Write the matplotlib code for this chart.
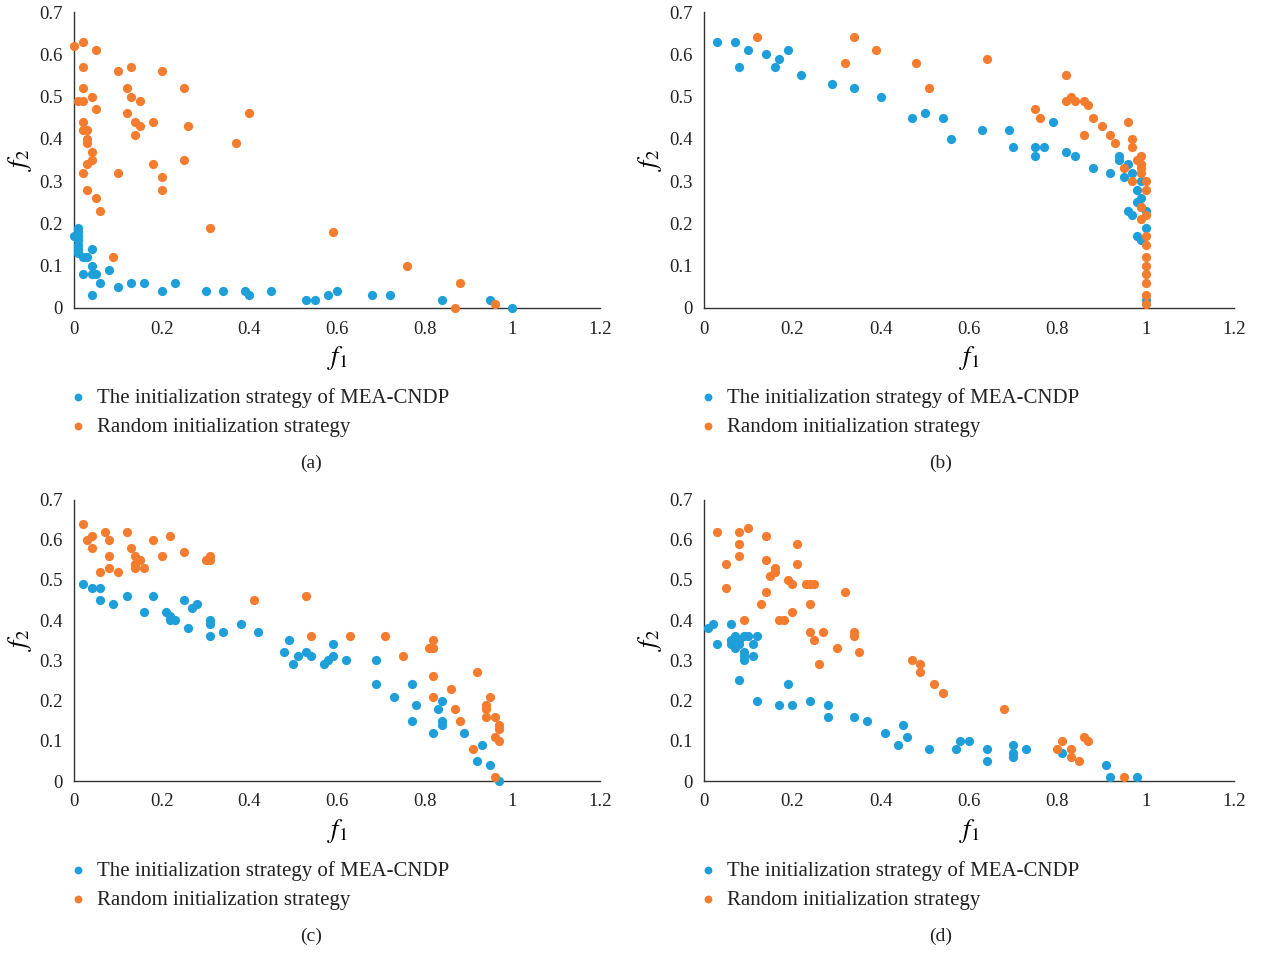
import matplotlib.pyplot as plt
from matplotlib.ticker import FuncFormatter

plt.rcParams['font.family'] = ['Liberation Serif', 'DejaVu Serif']
plt.rcParams['mathtext.fontset'] = 'stix'

BLUE = '#1e9fda'
ORANGE = '#f47c2f'

# ---- data: (a) ----
a_mea_f1 = [0, 0.01, 0.01, 0.01, 0.01, 0.01, 0.01, 0.01, 0.02, 0.03, 0.04, 0.04, 0.02, 0.04, 0.05,
            0.08, 0.06, 0.04, 0.10, 0.13, 0.16, 0.20, 0.23, 0.30, 0.34, 0.39, 0.40, 0.45, 0.53, 0.55,
            0.58, 0.60, 0.68, 0.72, 0.84, 0.95, 1.0]
a_mea_f2 = [0.17, 0.19, 0.18, 0.17, 0.16, 0.15, 0.14, 0.13, 0.12, 0.12, 0.14, 0.10, 0.08, 0.08, 0.08,
            0.09, 0.06, 0.03, 0.05, 0.06, 0.06, 0.04, 0.06, 0.04, 0.04, 0.04, 0.03, 0.04, 0.02, 0.02,
            0.03, 0.04, 0.03, 0.03, 0.02, 0.02, 0.0]
a_rand_f1 = [0, 0.02, 0.05, 0.02, 0.10, 0.13, 0.20, 0.02, 0.12, 0.25, 0.01, 0.02, 0.04, 0.13, 0.15,
             0.05, 0.02, 0.12, 0.18, 0.14, 0.15, 0.26, 0.40, 0.02, 0.03, 0.14, 0.03, 0.03, 0.37, 0.04,
             0.04, 0.03, 0.18, 0.25, 0.02, 0.10, 0.20, 0.03, 0.20, 0.05, 0.06, 0.31, 0.09, 0.59, 0.76,
             0.88, 0.87, 0.96]
a_rand_f2 = [0.62, 0.63, 0.61, 0.57, 0.56, 0.57, 0.56, 0.52, 0.52, 0.52, 0.49, 0.49, 0.50, 0.50, 0.49,
             0.47, 0.44, 0.46, 0.44, 0.44, 0.43, 0.43, 0.46, 0.42, 0.42, 0.41, 0.40, 0.39, 0.39, 0.37,
             0.35, 0.34, 0.34, 0.35, 0.32, 0.32, 0.31, 0.28, 0.28, 0.26, 0.23, 0.19, 0.12, 0.18, 0.10,
             0.06, 0.0, 0.01]

# ---- (b) ----
b_mea_f1 = [0.03, 0.07, 0.08, 0.10, 0.14, 0.16, 0.17, 0.19, 0.22, 0.29, 0.34, 0.40, 0.47, 0.50, 0.54,
            0.56, 0.63, 0.69, 0.70, 0.75, 0.75, 0.77, 0.79, 0.82, 0.84, 0.88, 0.92, 0.94, 0.94, 0.95,
            0.96, 0.97, 0.99, 0.98, 0.99, 0.98, 0.99, 0.96, 0.97, 1.0, 1.0, 0.98, 0.99, 1.0]
b_mea_f2 = [0.63, 0.63, 0.57, 0.61, 0.60, 0.57, 0.59, 0.61, 0.55, 0.53, 0.52, 0.50, 0.45, 0.46, 0.45,
            0.40, 0.42, 0.42, 0.38, 0.38, 0.36, 0.38, 0.44, 0.37, 0.36, 0.33, 0.32, 0.36, 0.35, 0.31,
            0.34, 0.32, 0.30, 0.28, 0.26, 0.25, 0.24, 0.23, 0.22, 0.23, 0.19, 0.17, 0.16, 0.02]
b_rand_f1 = [0.12, 0.34, 0.32, 0.39, 0.48, 0.51, 0.64, 0.82, 0.83, 0.82, 0.84, 0.86, 0.87, 0.75, 0.76,
             0.88, 0.90, 0.86, 0.92, 0.93, 0.96, 0.97, 0.97, 0.95, 0.97, 0.98, 0.99, 0.99, 0.99, 0.99,
             1.0, 1.0, 0.99, 1.0, 0.99, 1.0, 1.0, 1.0, 1.0, 1.0, 1.0, 1.0, 1.0]
b_rand_f2 = [0.64, 0.64, 0.58, 0.61, 0.58, 0.52, 0.59, 0.55, 0.50, 0.49, 0.49, 0.49, 0.48, 0.47, 0.45,
             0.45, 0.43, 0.41, 0.41, 0.39, 0.44, 0.40, 0.38, 0.33, 0.30, 0.35, 0.36, 0.34, 0.33, 0.32,
             0.30, 0.28, 0.24, 0.22, 0.21, 0.17, 0.15, 0.12, 0.10, 0.08, 0.06, 0.03, 0.01]

# ---- (c) ----
c_mea_f1 = [0.02, 0.04, 0.06, 0.06, 0.09, 0.12, 0.16, 0.18, 0.21, 0.22, 0.22, 0.23, 0.25, 0.26, 0.27,
            0.28, 0.31, 0.31, 0.31, 0.34, 0.38, 0.42, 0.48, 0.49, 0.50, 0.51, 0.53, 0.54, 0.57, 0.58,
            0.59, 0.59, 0.62, 0.69, 0.69, 0.73, 0.77, 0.78, 0.77, 0.82, 0.83, 0.84, 0.84, 0.84, 0.89,
            0.93, 0.92, 0.95, 0.97]
c_mea_f2 = [0.49, 0.48, 0.48, 0.45, 0.44, 0.46, 0.42, 0.46, 0.42, 0.41, 0.40, 0.40, 0.45, 0.38, 0.43,
            0.44, 0.40, 0.39, 0.36, 0.37, 0.39, 0.37, 0.32, 0.35, 0.29, 0.31, 0.32, 0.31, 0.29, 0.30,
            0.31, 0.34, 0.30, 0.30, 0.24, 0.21, 0.24, 0.19, 0.15, 0.12, 0.18, 0.20, 0.15, 0.14, 0.12,
            0.09, 0.05, 0.04, 0.0]
c_rand_f1 = [0.02, 0.03, 0.04, 0.04, 0.07, 0.08, 0.12, 0.08, 0.13, 0.14, 0.15, 0.14, 0.14, 0.16, 0.08,
             0.06, 0.10, 0.18, 0.22, 0.20, 0.25, 0.30, 0.31, 0.31, 0.41, 0.53, 0.54, 0.63, 0.71, 0.75,
             0.82, 0.81, 0.82, 0.82, 0.92, 0.86, 0.82, 0.87, 0.88, 0.95, 0.94, 0.94, 0.94, 0.96, 0.97,
             0.97, 0.96, 0.97, 0.91, 0.96]
c_rand_f2 = [0.64, 0.60, 0.61, 0.58, 0.62, 0.60, 0.62, 0.56, 0.58, 0.56, 0.55, 0.54, 0.53, 0.53, 0.53,
             0.52, 0.52, 0.60, 0.61, 0.56, 0.57, 0.55, 0.56, 0.55, 0.45, 0.46, 0.36, 0.36, 0.36, 0.31,
             0.35, 0.33, 0.33, 0.26, 0.27, 0.23, 0.21, 0.18, 0.15, 0.21, 0.19, 0.18, 0.16, 0.16, 0.14,
             0.13, 0.11, 0.10, 0.08, 0.01]

# ---- (d) ----
d_mea_f1 = [0.01, 0.02, 0.03, 0.06, 0.06, 0.06, 0.07, 0.07, 0.07, 0.08, 0.08, 0.09, 0.10, 0.11, 0.12,
            0.09, 0.09, 0.09, 0.11, 0.08, 0.12, 0.17, 0.19, 0.20, 0.24, 0.28, 0.28, 0.34, 0.37, 0.41,
            0.45, 0.46, 0.44, 0.51, 0.57, 0.58, 0.60, 0.64, 0.64, 0.70, 0.70, 0.70, 0.73, 0.81, 0.91,
            0.92, 0.98]
d_mea_f2 = [0.38, 0.39, 0.34, 0.39, 0.35, 0.34, 0.36, 0.34, 0.33, 0.35, 0.34, 0.36, 0.36, 0.34, 0.36,
            0.32, 0.31, 0.30, 0.31, 0.25, 0.20, 0.19, 0.24, 0.19, 0.20, 0.19, 0.16, 0.16, 0.15, 0.12,
            0.14, 0.11, 0.09, 0.08, 0.08, 0.10, 0.10, 0.08, 0.05, 0.09, 0.07, 0.06, 0.08, 0.07, 0.04,
            0.01, 0.01]
d_rand_f1 = [0.03, 0.08, 0.10, 0.08, 0.08, 0.05, 0.05, 0.14, 0.14, 0.16, 0.16, 0.15, 0.21, 0.21, 0.19,
             0.20, 0.14, 0.13, 0.23, 0.24, 0.25, 0.24, 0.32, 0.09, 0.17, 0.18, 0.20, 0.24, 0.27, 0.25,
             0.26, 0.30, 0.34, 0.34, 0.35, 0.47, 0.49, 0.49, 0.52, 0.54, 0.68, 0.80, 0.81, 0.83, 0.83,
             0.85, 0.86, 0.87, 0.95]
d_rand_f2 = [0.62, 0.62, 0.63, 0.59, 0.56, 0.54, 0.48, 0.61, 0.55, 0.53, 0.52, 0.51, 0.59, 0.54, 0.50,
             0.49, 0.47, 0.44, 0.49, 0.49, 0.49, 0.44, 0.47, 0.40, 0.40, 0.40, 0.42, 0.37, 0.37, 0.35,
             0.29, 0.33, 0.37, 0.36, 0.32, 0.30, 0.29, 0.27, 0.24, 0.22, 0.18, 0.08, 0.10, 0.08, 0.06,
             0.05, 0.11, 0.10, 0.01]

labels = ['The initialization strategy of MEA-CNDP', 'Random initialization strategy']
x_ticks = [0, 0.2, 0.4, 0.6, 0.8, 1.0, 1.2]
y_ticks = [0, 0.1, 0.2, 0.3, 0.4, 0.5, 0.6, 0.7]

panels = [
    ('(a)', a_mea_f1, a_mea_f2, a_rand_f1, a_rand_f2),
    ('(b)', b_mea_f1, b_mea_f2, b_rand_f1, b_rand_f2),
    ('(c)', c_mea_f1, c_mea_f2, c_rand_f1, c_rand_f2),
    ('(d)', d_mea_f1, d_mea_f2, d_rand_f1, d_rand_f2),
]

W, H = 1262, 956
# axes boxes in pixels: left, top, right, bottom
boxes = [(74, 12, 600, 308), (704, 12, 1234, 308),
         (74, 499.5, 600, 781), (704, 499.5, 1234, 781)]

fig = plt.figure(figsize=(W / 100, H / 100), dpi=100)
fmt = FuncFormatter(lambda v, p: '{:g}'.format(round(v, 2)))

for (cap, mx, my, rx, ry), (l, t, r, b) in zip(panels, boxes):
    ax = fig.add_axes([l / W, 1 - b / H, (r - l) / W, (b - t) / H])
    s1 = ax.scatter(mx, my, s=44, color=BLUE, linewidths=0, clip_on=False, zorder=3)
    s2 = ax.scatter(rx, ry, s=44, color=ORANGE, linewidths=0, clip_on=False, zorder=4)
    ax.set_xlim(0, 1.2)
    ax.set_ylim(0, 0.7)
    ax.set_xticks(x_ticks)
    ax.set_yticks(y_ticks)
    ax.xaxis.set_major_formatter(fmt)
    ax.yaxis.set_major_formatter(fmt)
    ax.tick_params(length=0, labelsize=13.5, colors='#222222')
    ax.tick_params(axis='x', pad=9)
    ax.tick_params(axis='y', pad=8)
    for side in ('top', 'right'):
        ax.spines[side].set_visible(False)
    for side in ('left', 'bottom'):
        ax.spines[side].set_color('#333333')
        ax.spines[side].set_linewidth(1.0)
    ax.set_xlabel('$f_1$', fontsize=19)
    ax.set_ylabel('$f_2$', fontsize=19)
    ax.xaxis.set_label_coords(0.5, -36 / (b - t))
    ax.yaxis.set_label_coords(-40 / (r - l), 0.5)

    ax.legend([s1, s2], labels, loc='upper left', frameon=False,
              bbox_to_anchor=((l - 2) / W, 1 - (b + 80) / H), bbox_transform=fig.transFigure,
              borderpad=0, borderaxespad=0, handlelength=0.6, handletextpad=0.6,
              labelspacing=0.45, markerscale=0.85, fontsize=15, labelcolor='#222222')
    fig.text((l + 237) / W, 1 - (b + 155) / H, cap, ha='center', va='center',
             fontsize=14, color='#222222')

fig.savefig('out.png', dpi=100)
